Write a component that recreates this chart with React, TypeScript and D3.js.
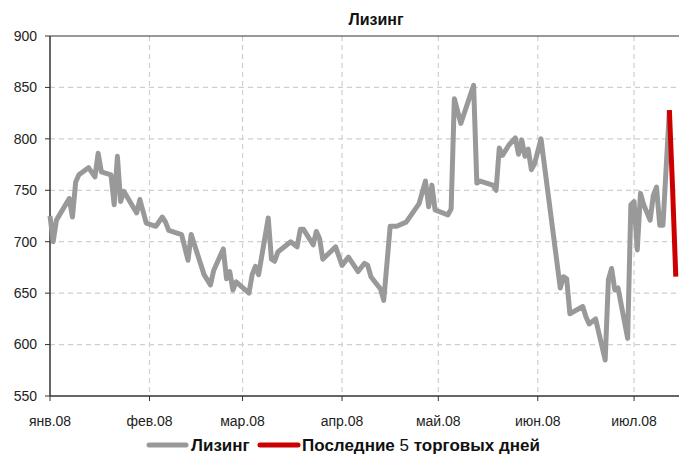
import React from "react";
import * as d3 from "d3";

const WIDTH = 679;
const HEIGHT = 457;

const title = "Лизинг";
const seriesName = "Лизинг";
const lastName = ["Последние ", "5", " торговых дней"];

const dates: string[] = [
  "2008-01-01","2008-01-02","2008-01-03","2008-01-07","2008-01-08","2008-01-09","2008-01-10",
  "2008-01-13","2008-01-15","2008-01-16","2008-01-17","2008-01-20","2008-01-21","2008-01-22",
  "2008-01-23","2008-01-24","2008-01-28","2008-01-29","2008-01-31","2008-02-03","2008-02-05",
  "2008-02-06","2008-02-07","2008-02-11","2008-02-13","2008-02-14","2008-02-18","2008-02-20",
  "2008-02-21","2008-02-24","2008-02-25","2008-02-26","2008-02-27","2008-02-28","2008-03-03",
  "2008-03-04","2008-03-05","2008-03-06","2008-03-09","2008-03-10","2008-03-11","2008-03-12",
  "2008-03-16","2008-03-18","2008-03-19","2008-03-20","2008-03-23","2008-03-24","2008-03-25",
  "2008-03-26","2008-03-28","2008-03-30","2008-04-01","2008-04-03","2008-04-06","2008-04-08",
  "2008-04-09","2008-04-10","2008-04-13","2008-04-14","2008-04-16","2008-04-18","2008-04-21",
  "2008-04-25","2008-04-27","2008-04-28","2008-04-29","2008-04-30","2008-05-04","2008-05-05",
  "2008-05-06","2008-05-08","2008-05-12","2008-05-13","2008-05-14","2008-05-18","2008-05-19",
  "2008-05-20","2008-05-21","2008-05-23","2008-05-25","2008-05-26","2008-05-27","2008-05-28",
  "2008-05-29","2008-05-30","2008-05-31","2008-06-02","2008-06-08","2008-06-09","2008-06-10",
  "2008-06-11","2008-06-15","2008-06-16","2008-06-17","2008-06-19","2008-06-22","2008-06-23",
  "2008-06-24","2008-06-25","2008-06-26","2008-06-29","2008-06-30","2008-07-01","2008-07-02",
  "2008-07-03","2008-07-04","2008-07-06","2008-07-07","2008-07-08","2008-07-09","2008-07-10",
  "2008-07-12"
];

const values: number[] = [
  725,700,721,742,724,758,765,
  772,763,786,768,765,736,783,
  739,749,728,741,718,715,724,
  719,711,707,682,707,668,658,
  672,693,664,671,653,661,650,
  668,676,668,723,683,681,690,
  700,695,712,712,697,710,703,
  683,689,695,677,685,671,679,
  677,666,654,643,715,715,719,
  737,759,734,755,731,726,732,
  839,815,852,757,759,755,750,
  791,784,794,801,785,799,783,
  790,770,776,800,655,666,664,
  630,637,627,620,625,585,663,
  674,653,655,606,736,739,692,
  747,736,721,745,753,716,716,
  828
];

const lastDates: string[] = ["2008-07-12", "2008-07-13", "2008-07-14"];
const lastValues: number[] = [828, 752, 666];

const yTicks: number[] = [550, 600, 650, 700, 750, 800, 850, 900];
const monthTickDates: string[] = [
  "2008-01-01","2008-02-01","2008-03-01","2008-04-01","2008-05-01","2008-06-01","2008-07-01"
];
const monthLabels: string[] = ["янв.08","фев.08","мар.08","апр.08","май.08","июн.08","июл.08"];

const parse = d3.timeParse("%Y-%m-%d");
const FONT = "'Liberation Sans', Arial, sans-serif";

export default function App() {
  const left = 50, right = 679, top = 36, bottom = 396;
  const x = d3.scaleTime()
    .domain([parse("2008-01-01")!, parse("2008-07-15")!])
    .range([left, right]);
  const y = d3.scaleLinear().domain([550, 900]).range([bottom, top]);

  const main = dates.map((d, i) => ({ d: parse(d)!, v: values[i] }));
  const last = lastDates.map((d, i) => ({ d: parse(d)!, v: lastValues[i] }));
  const line = d3.line<{ d: Date; v: number }>().x(p => x(p.d)).y(p => y(p.v));

  const gridColor = "#cfcfcf";
  const axisColor = "#333333";

  return (
    <div style={{ position: "fixed", left: 0, top: 0 }}>
      <svg width={WIDTH} height={HEIGHT} style={{ display: "block", background: "#fff" }} fontFamily={FONT}>
        {/* horizontal grid */}
        {yTicks.filter(t => t !== 550 && t !== 900).map(t => (
          <line key={"h" + t} x1={left} x2={right} y1={y(t)} y2={y(t)}
            stroke={gridColor} strokeWidth={1.2} strokeDasharray="5,4" />
        ))}
        {/* vertical grid */}
        {monthTickDates.slice(1).map(m => (
          <line key={"v" + m} x1={x(parse(m)!)} x2={x(parse(m)!)} y1={top} y2={bottom}
            stroke={gridColor} strokeWidth={1.2} strokeDasharray="5,4" />
        ))}
        {/* top border */}
        <line x1={left} x2={right} y1={top} y2={top} stroke={axisColor} strokeWidth={1} />
        {/* axes */}
        <line x1={left} x2={left} y1={top} y2={bottom} stroke={axisColor} strokeWidth={1.5} />
        <line x1={left} x2={right} y1={bottom} y2={bottom} stroke={axisColor} strokeWidth={1.5} />
        {yTicks.map(t => (
          <g key={"yt" + t}>
            <line x1={left - 5} x2={left} y1={y(t)} y2={y(t)} stroke={axisColor} strokeWidth={1} />
            <text x={37} y={y(t)} dy="0.35em" textAnchor="end" fontSize={14} fill="#222">{t}</text>
          </g>
        ))}
        {monthTickDates.map((m, i) => (
          <g key={"xt" + m}>
            <line x1={x(parse(m)!)} x2={x(parse(m)!)} y1={bottom} y2={bottom + 5} stroke={axisColor} strokeWidth={1} />
            <text x={x(parse(m)!)} y={426} textAnchor="middle" fontSize={14} fill="#222">{monthLabels[i]}</text>
          </g>
        ))}
        {/* series */}
        <path d={line(main)!} fill="none" stroke="#999999" strokeWidth={5} strokeLinejoin="round" />
        <path d={line(last)!} fill="none" stroke="#cc0000" strokeWidth={5} strokeLinejoin="round" />
        {/* title */}
        <text x={376} y={25} textAnchor="middle" fontSize={16} fontWeight="bold" fill="#111">{title}</text>
        {/* legend */}
        <line x1={149} x2={186} y1={445} y2={445} stroke="#999999" strokeWidth={5} strokeLinecap="round" />
        <text x={191} y={451} fontSize={17} fontWeight="bold" fill="#111">{seriesName}</text>
        <line x1={260} x2={298} y1={445} y2={445} stroke="#cc0000" strokeWidth={5} strokeLinecap="round" />
        <text x={302} y={451} fontSize={17} fontWeight="bold" fill="#111">
          {lastName[0]}<tspan fontWeight="normal">{lastName[1]}</tspan>{lastName[2]}
        </text>
      </svg>
    </div>
  );
}
